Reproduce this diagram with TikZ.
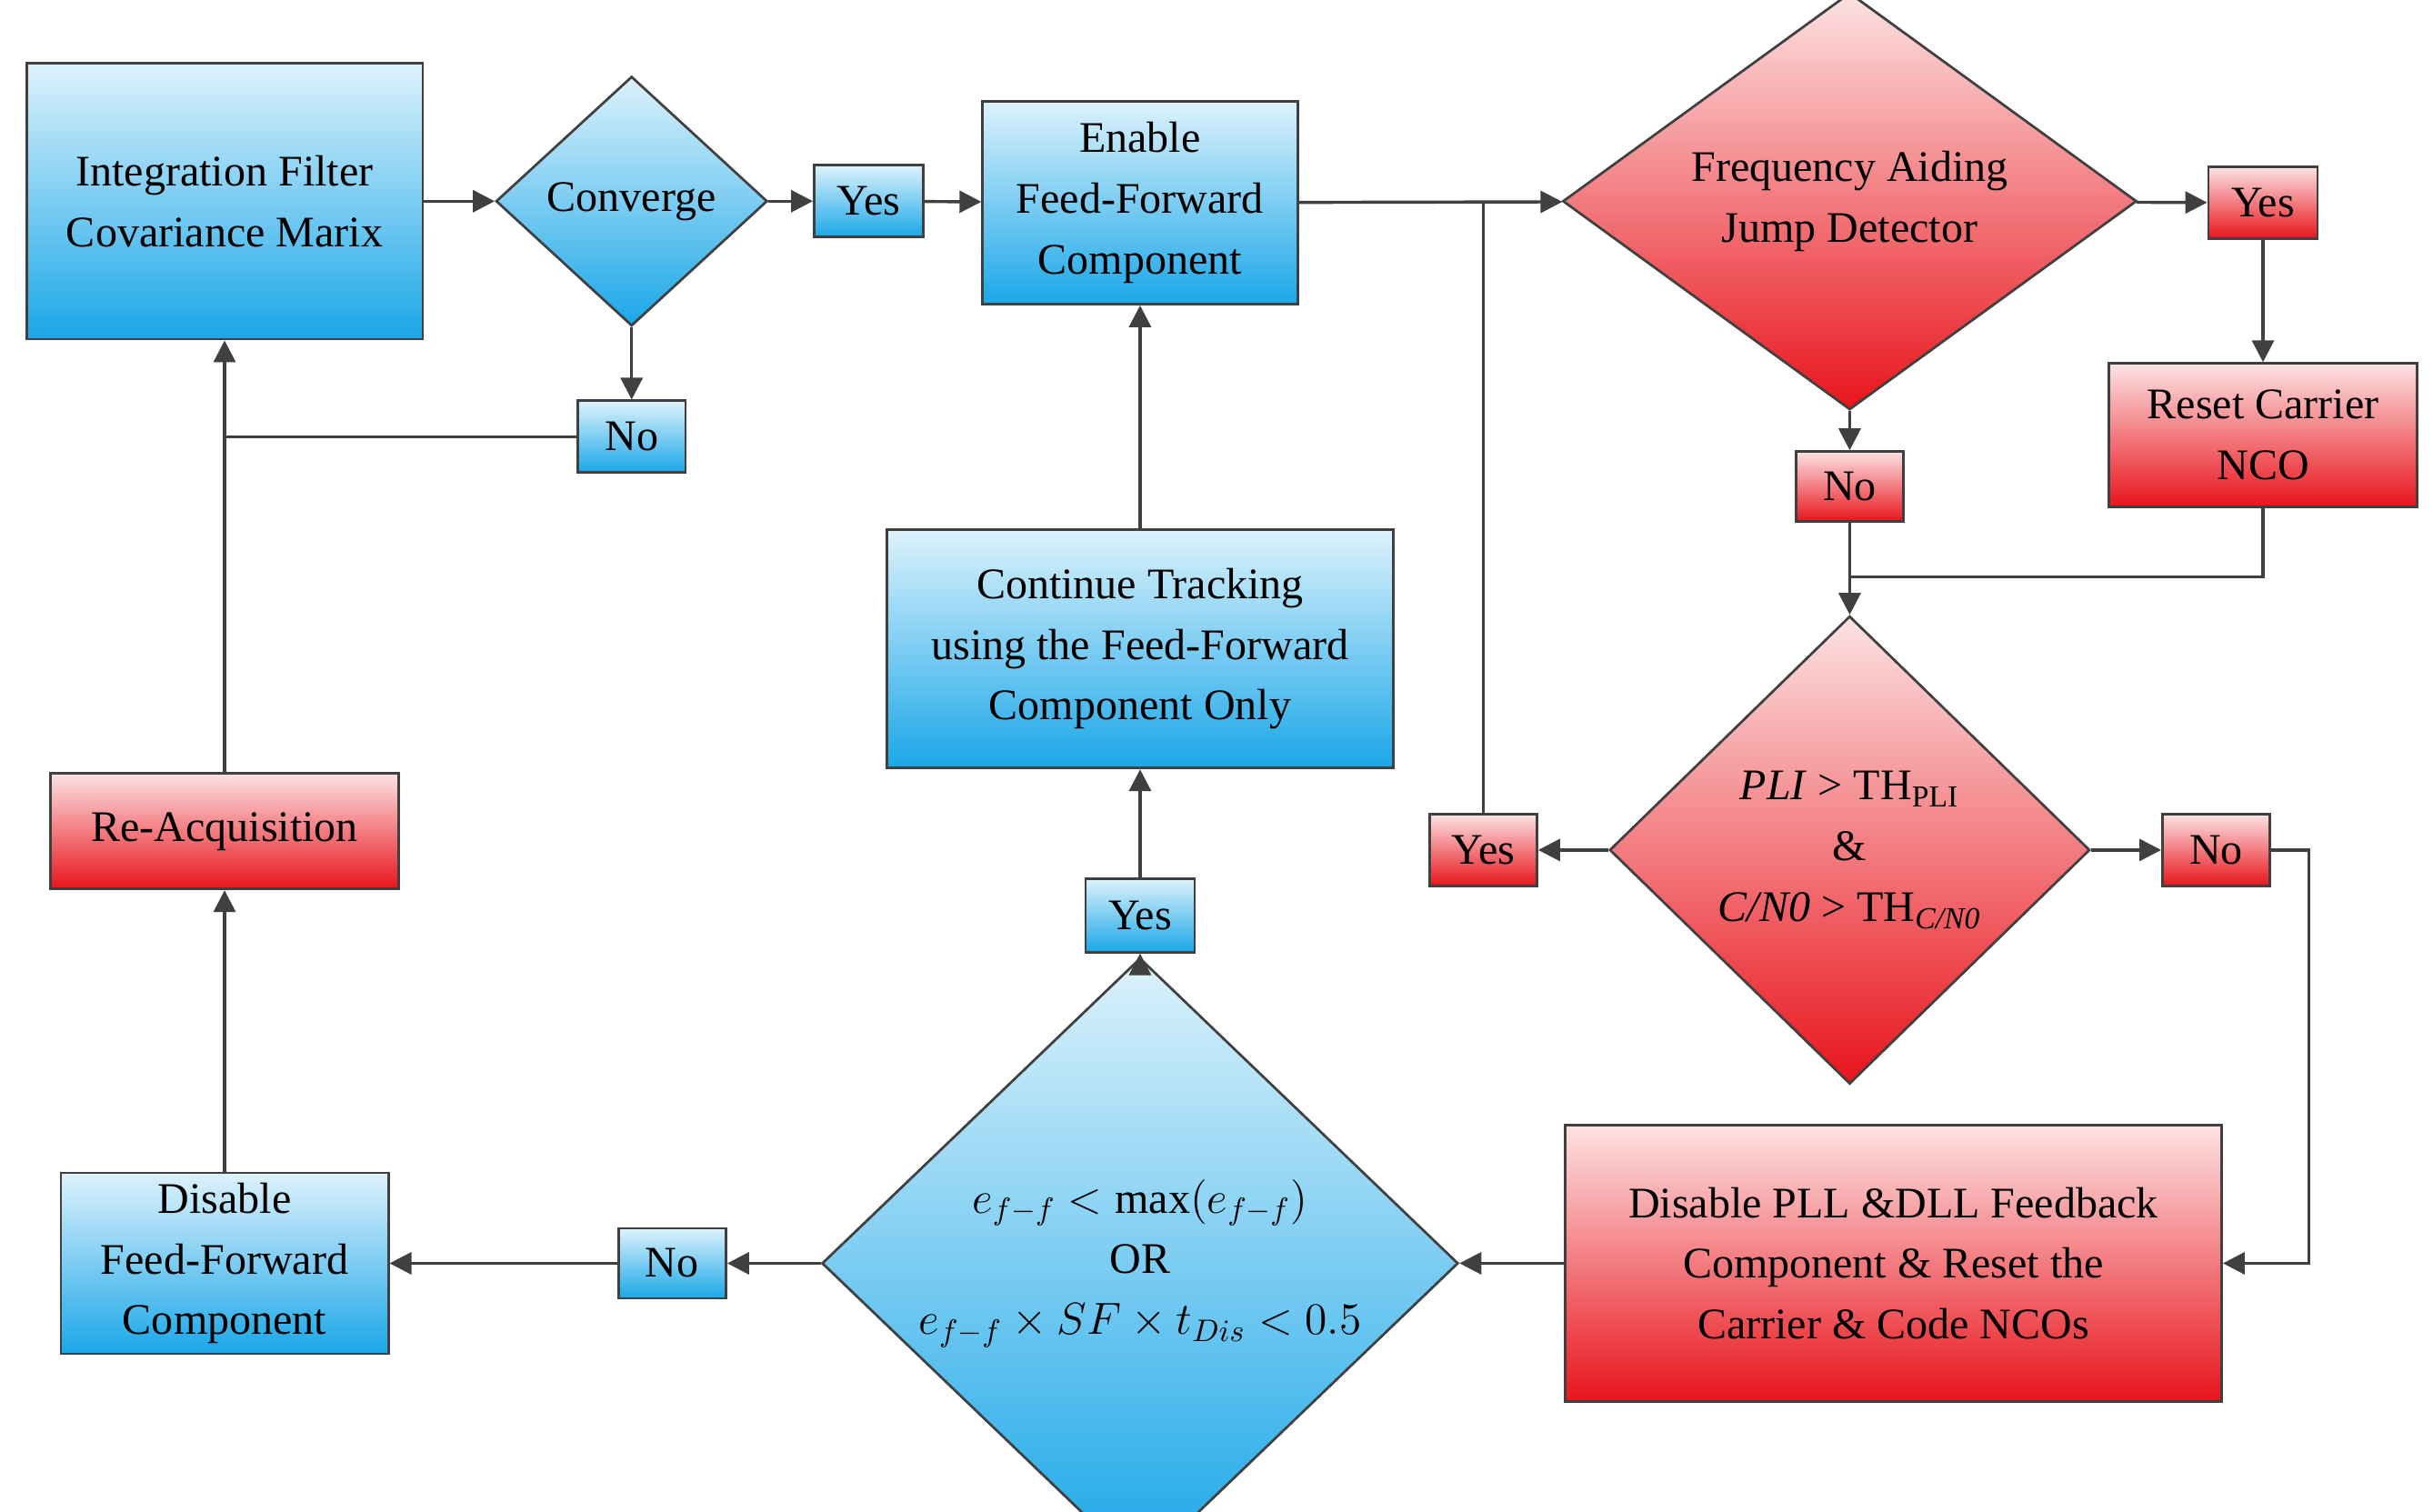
\documentclass[tikz,border=0pt]{standalone}
\usepackage{fontspec}
\setmainfont{Liberation Serif}
\usetikzlibrary{shapes.geometric,arrows.meta}
\definecolor{bl}{HTML}{1AA7E8}\definecolor{blt}{HTML}{DDF2FC}
\definecolor{rd}{HTML}{E8141C}\definecolor{rdt}{HTML}{FDE2E2}
\definecolor{ln}{HTML}{404040}
\begin{document}
\begin{tikzpicture}[x=0.5pt,y=-0.5pt,
 every node/.style={font=\fontsize{14}{19.5}\selectfont,align=center,draw=ln,line width=0.8pt,inner sep=0},
 bbox/.style={rectangle,top color=blt,bottom color=bl},
 rbox/.style={rectangle,top color=rdt,bottom color=rd},
 bd/.style={diamond,top color=blt,bottom color=bl},
 rdi/.style={diamond,top color=rdt,bottom color=rd},
 sz/.style 2 args={minimum width=#1*0.5pt,minimum height=#2*0.5pt},
 ar/.style={draw=ln,line width=1pt,-{Triangle[length=7pt,width=7pt]}},
 ln/.style={draw=ln,line width=1pt}]
\useasboundingbox (0,0) rectangle (1560,969);
\node[bbox,sz={254}{177}] (int) at (144,129) {Integration Filter\\Covariance Marix};
\node[bd,sz={174}{160}] (conv) at (405,129) {Converge};
\node[bbox,sz={70}{46}] (y1) at (557,129) {Yes};
\node[bbox,sz={202}{130}] (en) at (731,130) {Enable\\Feed-Forward\\Component};
\node[rdi,sz={368}{225}] (fq) at (1186,129) {Frequency Aiding\\Jump Detector};
\node[rbox,sz={70}{46}] (y2) at (1451,130) {Yes};
\node[rbox,sz={198}{92}] (rc) at (1451,279) {Reset Carrier\\NCO};
\node[rbox,sz={69}{45}] (n2) at (1186,312) {No};
\node[rdi,sz={308}{300}] (pli) at (1186,545) {\textit{PLI} > TH\textsubscript{PLI}\\\&\\\textit{C/N0} > TH\textsubscript{\textit{C/N0}}};
\node[rbox,sz={69}{46}] (y3) at (951,545) {Yes};
\node[rbox,sz={69}{46}] (n3) at (1421,545) {No};
\node[rbox,sz={421}{177}] (dp) at (1214,810) {Disable PLL \&DLL Feedback\\Component \& Reset the\\Carrier \& Code NCOs};
\node[bd,sz={408}{290}] (ed) at (731,810) {$e_{f-f}<\max(e_{f-f})$\\OR\\$e_{f-f}\times SF\times t_{Dis}<0.5$};
\node[bbox,sz={70}{47}] (y4) at (731,587) {Yes};
\node[bbox,sz={325}{153}] (ct) at (731,416) {Continue Tracking\\using the Feed-Forward\\Component Only};
\node[bbox,sz={69}{45}] (n4) at (431,810) {No};
\node[bbox,sz={210}{116}] (df) at (144,810) {Disable\\Feed-Forward\\Component};
\node[rbox,sz={223}{74}] (ra) at (144,533) {Re-Acquisition};
\node[bbox,sz={69}{46}] (n1) at (405,280) {No};
\coordinate (j1) at (144,280);
\coordinate (j2) at (951,129);
\coordinate (j3) at (1186,370);
\draw[ar] (int) -- (conv);
\draw[ar] (conv) -- (y1);
\draw[ar] (y1) -- (en);
\draw[ar] (en) -- (fq);
\draw[ar] (fq) -- (y2);
\draw[ar] (y2) -- (rc);
\draw[ar] (fq) -- (n2);
\draw[ln] (rc.south) |- (j3);
\draw[ar] (n2) -- (pli);
\draw[ar] (pli) -- (y3);
\draw[ar] (pli) -- (n3);
\draw[ln] (y3) -- (j2);
\draw[ar] (n3.east) -- ++(24,0) |- (dp.east);
\draw[ar] (dp) -- (ed);
\draw[ar] (ed) -- (y4);
\draw[ar] (y4) -- (ct);
\draw[ar] (ct) -- (en);
\draw[ar] (ed) -- (n4);
\draw[ar] (n4) -- (df);
\draw[ar] (df) -- (ra);
\draw[ar] (ra) -- (int);
\draw[ar] (conv) -- (n1);
\draw[ln] (n1) -- (j1);
\end{tikzpicture}
\end{document}
